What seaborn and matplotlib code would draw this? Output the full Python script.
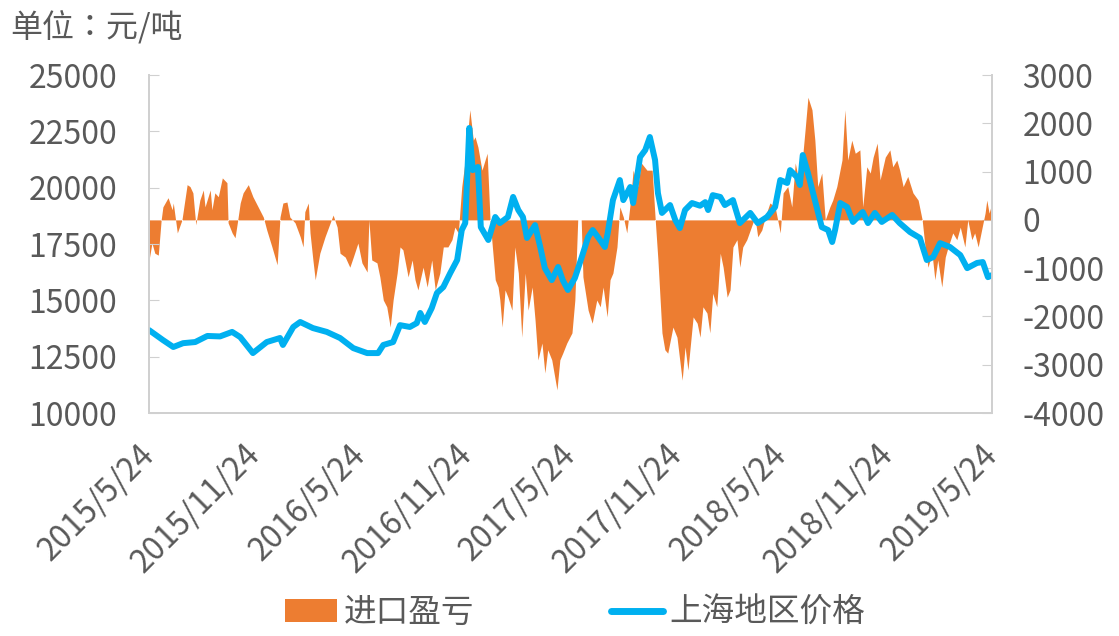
import numpy as np
import pandas as pd
import matplotlib
matplotlib.use("Agg")
import matplotlib.pyplot as plt
from matplotlib.patches import Patch
from matplotlib.lines import Line2D
import seaborn as sns

# data: days since 2015-05-24
start = pd.Timestamp("2015-05-24")

price_days = [0, 24, 42, 59, 80, 101, 123, 144, 158, 180, 204, 227, 232, 250, 262, 284,
              308, 331, 354, 378, 397, 406, 423, 435, 452, 464, 470, 478, 490, 499, 510,
              522, 534, 542, 548, 555, 561, 570, 575, 588, 600, 608, 622, 631, 640, 648,
              655, 669, 678, 686, 698, 709, 717, 726, 738, 750, 761, 769, 778, 790, 795,
              804, 816, 822, 834, 839, 851, 860, 868, 877, 882, 889, 903, 912, 920, 929,
              941, 955, 964, 969, 977, 990, 998, 1012, 1024, 1042, 1055, 1071, 1085, 1094,
              1106, 1111, 1123, 1128, 1133, 1142, 1154, 1166, 1177, 1184, 1189, 1198, 1210,
              1220, 1237, 1246, 1258, 1270, 1288, 1301, 1319, 1336, 1348, 1359, 1371, 1388,
              1406, 1418, 1435, 1445, 1454, 1461]
price = [13680, 13240, 12930, 13100, 13150, 13420, 13400, 13600, 13370, 12660, 13150, 13330,
         13020, 13820, 14040, 13770, 13600, 13330, 12880, 12660, 12660, 13020, 13150, 13900,
         13820, 13990, 14440, 14040, 14660, 15330, 15590, 16210, 16790, 18120, 18430, 22650,
         20780, 20920, 18250, 17680, 18700, 18430, 18700, 19590, 19010, 18700, 17770, 18340,
         17370, 16430, 15900, 16480, 15900, 15460, 15990, 16920, 17810, 18120, 17810, 17370,
         17990, 19450, 20340, 19450, 20030, 19320, 21360, 21670, 22250, 21230, 19760, 18880,
         19230, 18570, 18210, 19010, 19320, 19200, 19360, 19010, 19670, 19590, 19230, 19450,
         18430, 18880, 18430, 18700, 19140, 20340, 20210, 20780, 20470, 20120, 21450, 20650,
         19450, 18250, 18120, 17590, 18120, 19320, 19140, 18480, 18920, 18430, 18880, 18480,
         18790, 18430, 18030, 17770, 16790, 16920, 17540, 17370, 17010, 16430, 16660, 16700,
         16030, 16120]

profit_days = [0, 5, 10, 16, 21, 24, 33, 40, 42, 49, 57, 66, 71, 76, 81, 88, 94, 97, 106, 109,
               114, 120, 127, 135, 137, 144, 149, 153, 158, 163, 172, 180, 189, 198, 204, 213,
               222, 227, 232, 239, 244, 253, 262, 267, 270, 276, 279, 284, 288, 296, 305, 314,
               319, 326, 331, 340, 348, 354, 362, 369, 378, 381, 386, 395, 400, 406, 412, 418,
               423, 430, 435, 440, 449, 456, 461, 466, 475, 482, 490, 496, 504, 510, 518, 525,
               530, 536, 542, 548, 556, 562, 565, 570, 577, 586, 591, 600, 605, 608, 612, 617,
               622, 629, 634, 640, 646, 652, 657, 664, 669, 674, 681, 686, 691, 698, 707, 712,
               717, 724, 733, 738, 743, 749, 752, 761, 768, 776, 782, 787, 794, 799, 804, 811,
               816, 822, 828, 834, 839, 847, 853, 863, 872, 877, 882, 889, 894, 899, 908, 915,
               924, 929, 934, 943, 950, 955, 960, 967, 972, 977, 984, 990, 995, 1002, 1007,
               1012, 1019, 1024, 1029, 1036, 1042, 1050, 1055, 1062, 1068, 1076, 1085, 1094,
               1099, 1107, 1114, 1120, 1128, 1137, 1142, 1149, 1154, 1159, 1166, 1172, 1180,
               1185, 1192, 1201, 1206, 1211, 1218, 1224, 1232, 1237, 1244, 1250, 1255, 1262,
               1267, 1276, 1284, 1289, 1296, 1301, 1307, 1315, 1324, 1333, 1340, 1345, 1350,
               1357, 1362, 1367, 1374, 1380, 1385, 1393, 1400, 1406, 1414, 1419, 1426, 1431,
               1437, 1444, 1449, 1452, 1456, 1459]
profit = [-830, -480, -690, -730, 0, 270, 460, 210, 350, -270, 0, 730, 690, 560, -100, 410,
          620, 270, 620, 210, 560, 480, 870, 770, -60, -270, -370, -60, 350, 560, 730, 480,
          270, 60, -210, -560, -930, 60, 350, 370, 60, -60, -350, -560, 170, 350, -270, -830,
          -1240, -690, -350, -60, 100, -150, -690, -770, -980, -770, -480, -890, -1080, 0,
          -830, -890, -1180, -1660, -1800, -2220, -1660, -1100, -560, -620, -1180, -830,
          -1240, -1450, -980, -1390, -830, -1450, -1100, -560, -560, -410, -150, -270, 690,
          1240, 2280, 1650, 1720, 1510, 1030, 1380, 0, -1240, -1390, -1660, -2220, -1450,
          -1600, -1870, -560, -1100, -2430, -1100, -1870, -1390, -2070, -2900, -2550, -3170,
          -2690, -2900, -3520, -2900, -2760, -2550, -2340, -1660, 0, 0, -1180, -1870, -2140,
          -1660, -1800, -1390, -2010, -1240, -1100, -560, 270, 60, -270, 350, 1030, 690,
          1180, 1030, 1030, 60, -830, -2340, -2690, -2760, -2220, -2430, -3320, -2630, -3110,
          -2010, -2140, -2430, -1800, -1930, -2340, -1520, -1800, -690, -980, -1600, -1450,
          -560, -410, -980, -560, -410, -210, 60, -350, -210, 60, 350, 270, -270, 560, 690,
          270, 1180, 690, 1860, 2540, 2280, 1650, 690, 970, 0, 270, 410, 690, 1240, 2280,
          1240, 1650, 1380, 1450, 270, 1100, 970, 1300, 1590, 830, 1300, 1450, 1100, 1240,
          1030, 690, 900, 560, 410, 0, -560, -980, -690, -1240, -830, -1390, -770, -560,
          -270, -410, -150, -560, 0, -410, -270, -560, -150, 140, 410, 140, 270]

tick_dates = ["2015-05-24", "2015-11-24", "2016-05-24", "2016-11-24", "2017-05-24",
              "2017-11-24", "2018-05-24", "2018-11-24", "2019-05-24"]
tick_labels = ["2015/5/24", "2015/11/24", "2016/5/24", "2016/11/24", "2017/5/24",
               "2017/11/24", "2018/5/24", "2018/11/24", "2019/5/24"]

price_df = pd.DataFrame({"date": start + pd.to_timedelta(price_days, unit="D"), "price": price})
profit_df = pd.DataFrame({"date": start + pd.to_timedelta(profit_days, unit="D"), "profit": profit})

sns.set_style("white")
plt.rcParams['font.family'] = ['Noto Sans CJK SC', 'DejaVu Sans']
plt.rcParams['axes.unicode_minus'] = False

orange = "#ED7D31"
blue = "#00B0F0"
grey_txt = "#595959"
spine_c = "#D0D0D0"
fs = 23

fig = plt.figure(figsize=(11.19, 6.36), dpi=100)
ax = fig.add_axes([0.1332, 0.3506, 0.7533, 0.5314])
ax2 = ax.twinx()

# area on right axis
ax2.fill_between(profit_df["date"], 0, profit_df["profit"], color=orange, linewidth=0)
ax2.set_ylim(-4000, 3000)
ax2.set_yticks(np.arange(-4000, 3001, 1000))

# price line on left axis, drawn on top
sns.lineplot(data=price_df, x="date", y="price", ax=ax, color=blue, linewidth=4.3)
ax.set_zorder(ax2.get_zorder() + 1)
ax.patch.set_visible(False)
ax.set_ylim(10000, 25000)
ax.set_yticks(np.arange(10000, 25001, 2500))

ax.set_xlim(pd.Timestamp("2015-05-24"), pd.Timestamp("2019-05-24"))
ax.set_xticks(pd.to_datetime(tick_dates))
ax.set_xticklabels(tick_labels, rotation=45, ha="right", va="center", rotation_mode="anchor")
ax.set_xlabel("")
ax.set_ylabel("")

for a in (ax, ax2):
    for s in a.spines.values():
        s.set_color(spine_c)
        s.set_linewidth(1.3)
    a.spines["top"].set_visible(False)

ax.tick_params(axis="y", direction="in", length=7, color=spine_c, labelsize=fs,
               labelcolor=grey_txt, pad=23)
ax.tick_params(axis="x", direction="out", length=8, color=spine_c, labelsize=fs,
               labelcolor=grey_txt, pad=18)
ax2.tick_params(axis="y", direction="in", length=7, color=spine_c, labelsize=fs,
                labelcolor=grey_txt, pad=22)

fig.text(0.009, 0.958, "单位：元/吨", fontsize=fs, color=grey_txt, va="center", ha="left",
         family=['Noto Sans CJK TC', 'DejaVu Sans'])

handles = [Patch(facecolor=orange, edgecolor="none"),
           Line2D([0], [0], color=blue, linewidth=5, solid_capstyle="round")]
fig.legend(handles, ["进口盈亏", "上海地区价格"], loc="center", bbox_to_anchor=(0.514, 0.036),
           ncol=2, frameon=False, fontsize=23.5, labelcolor=grey_txt, handlelength=1.6,
           handletextpad=0.2, columnspacing=4.2)

fig.savefig("out.png", dpi=100)
